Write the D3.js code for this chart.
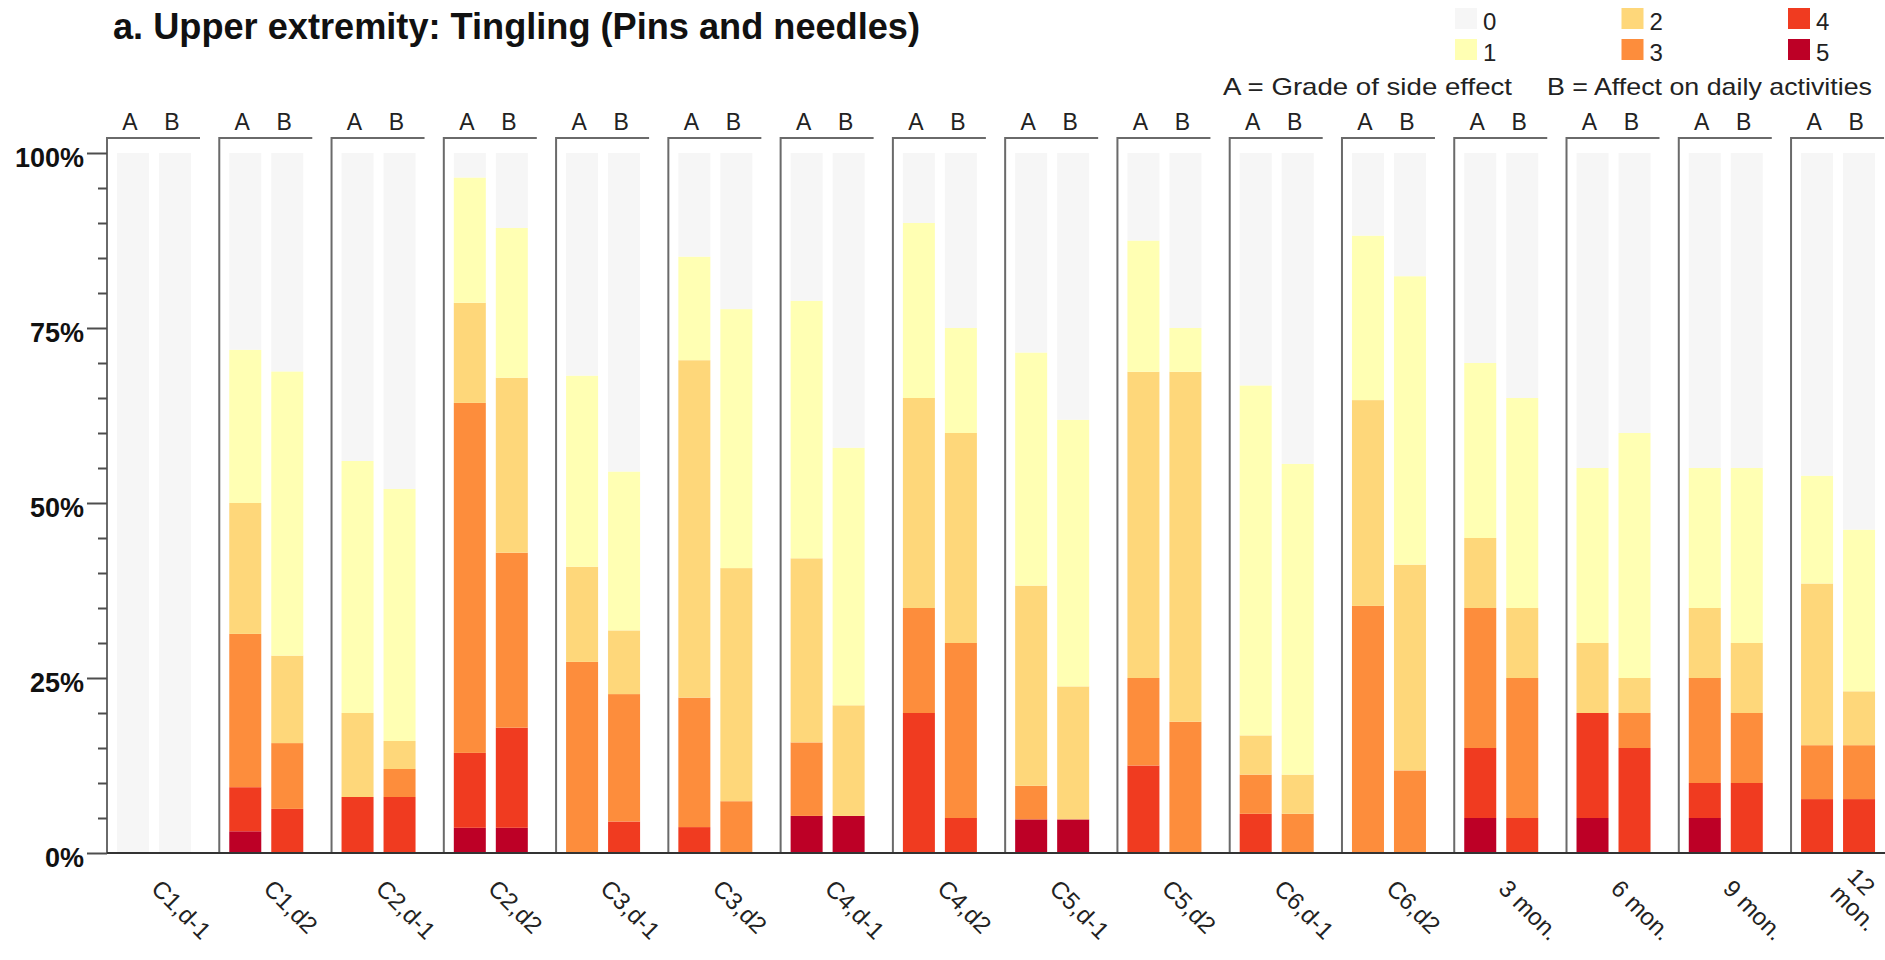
<!DOCTYPE html>
<html>
<head>
<meta charset="utf-8">
<script src="https://cdn.jsdelivr.net/npm/d3@7"></script>
<style>
  html, body { margin: 0; padding: 0; background: #ffffff; }
  svg { display: block; font-family: "Liberation Sans", Arial, sans-serif; }
</style>
</head>
<body>
<svg id="chart" width="1885" height="960"></svg>
<script>
// ---------- data (percent of patients per grade) ----------
const categories = ["C1,d-1","C1,d2","C2,d-1","C2,d2","C3,d-1","C3,d2","C4,d-1","C4,d2",
                    "C5,d-1","C5,d2","C6,d-1","C6,d2","3 mon.","6 mon.","9 mon.","12 mon."];
const tickLabels = ["C1,d-1","C1,d2","C2,d-1","C2,d2","C3,d-1","C3,d2","C4,d-1","C4,d2",
                    "C5,d-1","C5,d2","C6,d-1","C6,d2","3 mon.","6 mon.","9 mon.","12\nmon."];
const barKeys = ["A","B"];
const grades = ["0","1","2","3","4","5"];
const gradeColors = ["#f6f6f6","#ffffb3","#fed77a","#fd8d3c","#f03b20","#bd0026"];

// A = Grade of side effect
const gradeA5 = [0, 3.1, 0, 3.6, 0, 0, 5.3, 0, 4.8, 0, 0, 0, 5, 5, 5, 0];
const gradeA4 = [0, 6.3, 8, 10.7, 0, 3.7, 0, 20, 0, 12.5, 5.6, 0, 10, 15, 5, 7.7];
const gradeA3 = [0, 21.9, 0, 50, 27.3, 18.5, 10.5, 15, 4.8, 12.5, 5.6, 35.3, 20, 0, 15, 7.7];
const gradeA2 = [0, 18.7, 12, 14.3, 13.6, 48.2, 26.3, 30, 28.6, 43.75, 5.6, 29.4, 10, 10, 10, 23.1];
const gradeA1 = [0, 21.9, 36, 17.9, 27.3, 14.8, 36.8, 25, 33.3, 18.75, 50, 23.5, 25, 25, 20, 15.4];
const gradeA0 = [100, 28.1, 44, 3.5, 31.8, 14.8, 21.1, 10, 28.5, 12.5, 33.2, 11.8, 30, 45, 45, 46.1];

// B = Affect on daily activities
const gradeB5 = [0, 0, 0, 3.6, 0, 0, 5.3, 0, 4.8, 0, 0, 0, 0, 0, 0, 0];
const gradeB4 = [0, 6.3, 8, 14.3, 4.5, 0, 0, 5, 0, 0, 0, 0, 5, 15, 10, 7.7];
const gradeB3 = [0, 9.4, 4, 25, 18.2, 7.4, 0, 25, 0, 18.75, 5.6, 11.8, 20, 5, 10, 7.7];
const gradeB2 = [0, 12.5, 4, 25, 9.1, 33.3, 15.8, 30, 19, 50, 5.6, 29.4, 10, 5, 10, 7.7];
const gradeB1 = [0, 40.6, 36, 21.4, 22.7, 37, 36.8, 15, 38.1, 6.25, 44.4, 41.2, 30, 35, 25, 23.1];
const gradeB0 = [100, 31.2, 48, 10.7, 45.5, 22.3, 42.1, 25, 38.1, 25, 44.4, 17.6, 35, 40, 45, 53.8];

const yMajorTicks = [0, 25, 50, 75, 100];

// ---------- build rows ----------
const seriesA = [gradeA0, gradeA1, gradeA2, gradeA3, gradeA4, gradeA5];
const seriesB = [gradeB0, gradeB1, gradeB2, gradeB3, gradeB4, gradeB5];
const rows = [];
categories.forEach((c, i) => {
  barKeys.forEach(k => {
    const src = k === "A" ? seriesA : seriesB;
    const r = { cat: c, key: k };
    grades.forEach((g, gi) => { r["g" + g] = src[gi][i]; });
    rows.push(r);
  });
});
const stackKeys = ["g5","g4","g3","g2","g1","g0"];
const colorOf = k => gradeColors[+k.slice(1)];
const stacked = d3.stack().keys(stackKeys)(rows);

// ---------- layout ----------
const svg = d3.select("#chart");
const left = 107, step = 112.27, yTop = 153, yBottom = 853, bracketY = 138, bracketW = 93;
const x0 = d3.scaleBand().domain(categories).range([left, left + step * categories.length]).padding(0);
const x1 = d3.scaleBand().domain(barKeys).range([10, 84]).paddingInner(0.238).paddingOuter(0);
const y = d3.scaleLinear().domain([0, 100]).range([yBottom, yTop]);

// title
svg.append("text")
  .attr("x", 113).attr("y", 39)
  .attr("font-size", 37).attr("font-weight", "bold").attr("fill", "#111")
  .attr("textLength", 807).attr("lengthAdjust", "spacingAndGlyphs")
  .text("a. Upper extremity: Tingling (Pins and needles)");

// legend
const leg = svg.append("g");
grades.forEach((g, i) => {
  const col = Math.floor(i / 2), row = i % 2;
  const lx = 1455 + col * 166.5, ly = 8 + row * 31;
  leg.append("rect").attr("x", lx).attr("y", ly).attr("width", 22).attr("height", 21)
    .attr("fill", gradeColors[i]);
  leg.append("text").attr("x", lx + 28).attr("y", ly + 22)
    .attr("font-size", 24).attr("fill", "#222").text(g);
});
svg.append("text").attr("x", 1223).attr("y", 95).attr("font-size", 24).attr("fill", "#222")
  .attr("textLength", 289).attr("lengthAdjust", "spacingAndGlyphs")
  .text("A = Grade of side effect");
svg.append("text").attr("x", 1547).attr("y", 95).attr("font-size", 24).attr("fill", "#222")
  .attr("textLength", 325).attr("lengthAdjust", "spacingAndGlyphs")
  .text("B = Affect on daily activities");

// bars
const barG = svg.append("g");
stacked.forEach(layer => {
  barG.append("g").attr("fill", colorOf(layer.key))
    .selectAll("rect").data(layer).join("rect")
    .attr("x", d => x0(d.data.cat) + x1(d.data.key))
    .attr("width", x1.bandwidth())
    .attr("y", d => y(d[1]))
    .attr("height", d => Math.max(0, y(d[0]) - y(d[1])));
});

// panel brackets / borders
svg.append("g").selectAll("path").data(categories).join("path")
  .attr("d", c => `M${x0(c)},${yBottom} V${bracketY} H${x0(c) + bracketW}`)
  .attr("fill", "none").attr("stroke", "#6a6a6a").attr("stroke-width", 2);

// A / B header labels
const hdr = svg.append("g");
categories.forEach(c => {
  barKeys.forEach(k => {
    hdr.append("text")
      .attr("x", x0(c) + x1(k) + x1.bandwidth() / 2 - 3)
      .attr("y", 130)
      .attr("text-anchor", "middle").attr("font-size", 23).attr("fill", "#222")
      .text(k);
  });
});

// y axis (major + minor)
const yAxis = svg.append("g").attr("transform", `translate(${left},0)`)
  .call(d3.axisLeft(y).tickValues(yMajorTicks).tickFormat(d => d + "%").tickSize(20).tickPadding(3).tickSizeOuter(0));
yAxis.select(".domain").remove();
yAxis.selectAll(".tick line").attr("stroke", "#4d4d4d").attr("stroke-width", 2);
yAxis.selectAll(".tick text").attr("font-size", 27).attr("font-weight", "bold")
  .attr("fill", "#111").attr("dy", "0.5em")
  .style("font-family", "'Liberation Sans', Arial, sans-serif");

const minorVals = d3.range(5, 100, 5).filter(v => v % 25 !== 0);
const yMinor = svg.append("g").attr("transform", `translate(${left},0)`)
  .call(d3.axisLeft(y).tickValues(minorVals).tickFormat("").tickSize(9).tickSizeOuter(0));
yMinor.select(".domain").remove();
yMinor.selectAll(".tick line").attr("stroke", "#4d4d4d").attr("stroke-width", 2);

// x baseline
svg.append("line").attr("x1", left).attr("x2", 1885).attr("y1", yBottom).attr("y2", yBottom)
  .attr("stroke", "#333").attr("stroke-width", 2);

// x labels (rotated)
const xl = svg.append("g");
categories.forEach((c, i) => {
  const lines = tickLabels[i].split("\n");
  const cx = x0(c) + 43, cy = 890;
  const off = (lines.length - 1) * 12;
  const t = xl.append("text")
    .attr("transform", `translate(${cx + off},${cy - off}) rotate(45)`)
    .attr("font-size", 24).attr("fill", "#222");
  lines.forEach((ln, li) => {
    t.append("tspan").attr("x", 0).attr("dy", li === 0 ? 0 : "1.0em").text(ln);
  });
});
</script>
</body>
</html>
